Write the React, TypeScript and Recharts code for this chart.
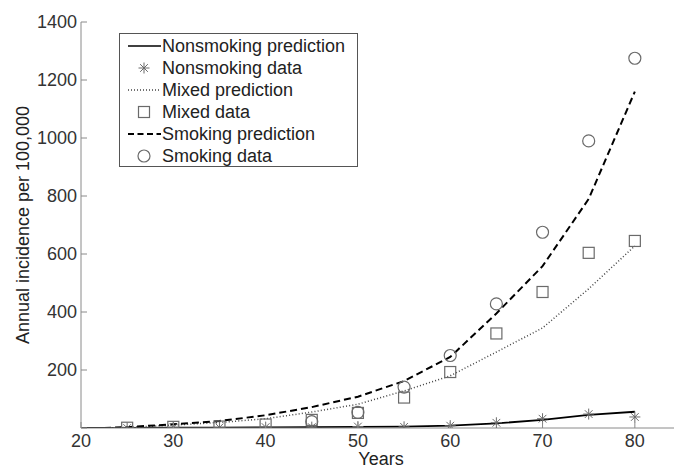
import React from 'react';
import { ComposedChart, Line, Scatter, XAxis, YAxis, Legend, Label } from 'recharts';

const nonsmokingPredYears = [20, 25, 30, 35, 40, 45, 50, 55, 60, 65, 70, 75, 80];
const nonsmokingPred = [0, 0.5, 1, 1.5, 2, 3, 4, 5, 8, 16, 28, 45, 56];

const curveYears = [22.5, 25, 30, 35, 40, 45, 50, 55, 60, 65, 70, 75, 80];
const mixedPred = [0, 2, 10, 19, 32, 55, 82, 128, 180, 262, 345, 480, 628];
const smokingPred = [0, 3, 13, 24, 44, 72, 108, 162, 245, 395, 558, 790, 1160];

// observed data
const dataYears = [25, 30, 35, 40, 45, 50, 55, 60, 65, 70, 75, 80];
const nonsmokingData = [0, 2, 2, 3, 3, 5, 4, 8, 18, 32, 48, 38];
const mixedData = [1, 4, 5, 12, 28, 52, 105, 193, 326, 469, 604, 645];

const smokingYears = [45, 50, 55, 60, 65, 70, 75, 80];
const smokingData = [22, 54, 141, 250, 428, 675, 990, 1275];

const xTicks = [20, 30, 40, 50, 60, 70, 80];
const yTicks = [0, 200, 400, 600, 800, 1000, 1200, 1400];

const toPoints = (xs: number[], ys: number[]) => xs.map((x, i) => ({ x, y: ys[i] }));

const FONT = '"Liberation Sans", Arial, sans-serif';
const MARKER = '#6a6a6a';
const AXIS = '#8a8a8a';

const StarMark = ({ cx, cy }: any) => {
  const r = 5.5;
  const d = r * 0.7;
  return (
    <g stroke={MARKER} strokeWidth={1}>
      <line x1={cx - r} y1={cy} x2={cx + r} y2={cy} />
      <line x1={cx} y1={cy - r} x2={cx} y2={cy + r} />
      <line x1={cx - d} y1={cy - d} x2={cx + d} y2={cy + d} />
      <line x1={cx - d} y1={cy + d} x2={cx + d} y2={cy - d} />
    </g>
  );
};

const SquareMark = ({ cx, cy }: any) => (
  <rect x={cx - 5.5} y={cy - 5.5} width={11} height={11} fill="none" stroke={MARKER} strokeWidth={1.2} />
);

const CircleMark = ({ cx, cy }: any) => (
  <circle cx={cx} cy={cy} r={6} fill="none" stroke={MARKER} strokeWidth={1.2} />
);

const YTick = ({ x, y, payload }: any) => (
  <g>
    <line x1={x + 4} y1={y} x2={x + 10} y2={y} stroke={AXIS} />
    {payload.value !== 0 && (
      <text x={x} y={y} dy="0.36em" textAnchor="end" fontSize={18} fontFamily={FONT} fill="#333">
        {payload.value}
      </text>
    )}
  </g>
);

const XTick = ({ x, y, payload }: any) => (
  <g>
    <line x1={x} y1={y} x2={x} y2={y - 6} stroke={AXIS} />
    <text x={x} y={y + 19} textAnchor="middle" fontSize={18} fontFamily={FONT} fill="#333">
      {payload.value}
    </text>
  </g>
);

const TopTick = ({ x, y }: any) => <line x1={x} y1={y} x2={x} y2={y + 6} stroke={AXIS} />;

const legendItems = [
  { name: 'Nonsmoking prediction', kind: 'solid' },
  { name: 'Nonsmoking data', kind: 'star' },
  { name: 'Mixed prediction', kind: 'dotted' },
  { name: 'Mixed data', kind: 'square' },
  { name: 'Smoking prediction', kind: 'dashed' },
  { name: 'Smoking data', kind: 'circle' },
];

const renderLegend = () => (
  <div
    style={{
      border: '1px solid #555',
      background: '#fff',
      paddingTop: 1,
      width: 237,
      height: 131,
      boxSizing: 'content-box',
    }}
  >
    {legendItems.map((item) => (
      <div key={item.name} style={{ display: 'flex', alignItems: 'center', height: 22 }}>
        <svg width={42} height={22} style={{ flex: 'none' }}>
          {item.kind === 'solid' && <line x1={8} y1={11} x2={41} y2={11} stroke="#000" strokeWidth={1.6} />}
          {item.kind === 'dotted' && (
            <line x1={8} y1={11} x2={41} y2={11} stroke="#444" strokeWidth={1.4} strokeDasharray="1 2" />
          )}
          {item.kind === 'dashed' && (
            <line x1={8} y1={11} x2={41} y2={11} stroke="#000" strokeWidth={1.8} strokeDasharray="6 3.5" />
          )}
          {item.kind === 'star' && <StarMark cx={24} cy={11} />}
          {item.kind === 'square' && <SquareMark cx={24} cy={11} />}
          {item.kind === 'circle' && <CircleMark cx={24} cy={11} />}
        </svg>
        <span style={{ fontFamily: FONT, fontSize: 18, color: '#222', whiteSpace: 'nowrap', lineHeight: '22px' }}>
          {item.name}
        </span>
      </div>
    ))}
  </div>
);

export default function App() {
  return (
    <div style={{ position: 'absolute', left: 0, top: 0, width: 674, height: 468, overflow: 'hidden', background: '#fff' }}>
      <ComposedChart width={700} height={468} margin={{ top: 22, right: 19, bottom: 0, left: 21 }}>
        <XAxis
          xAxisId="bottom"
          dataKey="x"
          type="number"
          domain={[20, 85]}
          ticks={xTicks}
          allowDataOverflow
          height={40}
          stroke={AXIS}
          tickLine={false}
          tickSize={0}
          tickMargin={0}
          tick={<XTick />}
        >
          <Label value="Years" position="insideBottom" offset={3} fontSize={18} fontFamily={FONT} fill="#222" />
        </XAxis>
        <XAxis
          xAxisId="top"
          orientation="top"
          dataKey="x"
          type="number"
          domain={[20, 85]}
          ticks={xTicks}
          allowDataOverflow
          height={0}
          stroke={AXIS}
          tickLine={false}
          tickSize={0}
          tickMargin={0}
          tick={<TopTick />}
        />
        <YAxis
          dataKey="y"
          type="number"
          domain={[0, 1400]}
          ticks={yTicks}
          allowDataOverflow
          width={60}
          stroke={AXIS}
          tickLine={false}
          tickSize={0}
          tickMargin={4}
          tick={<YTick />}
        >
          <Label
            value="Annual incidence per 100,000"
            angle={-90}
            position="insideLeft"
            offset={2}
            fontSize={18}
            fontFamily={FONT}
            fill="#222"
            style={{ textAnchor: 'middle' }}
          />
        </YAxis>
        <Legend
          layout="vertical"
          align="center"
          verticalAlign="middle"
          content={renderLegend}
          wrapperStyle={{ left: 119, top: 33, width: 'auto', height: 'auto' }}
        />
        <Line
          xAxisId="bottom"
          data={toPoints(nonsmokingPredYears, nonsmokingPred)}
          dataKey="y"
          type="linear"
          stroke="#000"
          strokeWidth={1.8}
          dot={false}
          isAnimationActive={false}
        />
        <Line
          xAxisId="bottom"
          data={toPoints(curveYears, mixedPred)}
          dataKey="y"
          type="linear"
          stroke="#444"
          strokeWidth={1.5}
          strokeDasharray="1 2.2"
          dot={false}
          isAnimationActive={false}
        />
        <Line
          xAxisId="bottom"
          data={toPoints(curveYears, smokingPred)}
          dataKey="y"
          type="linear"
          stroke="#000"
          strokeWidth={2}
          strokeDasharray="7 4"
          dot={false}
          isAnimationActive={false}
        />
        <Scatter
          xAxisId="bottom"
          data={toPoints(dataYears, nonsmokingData)}
          shape={<StarMark />}
          isAnimationActive={false}
        />
        <Scatter
          xAxisId="bottom"
          data={toPoints(dataYears, mixedData)}
          shape={<SquareMark />}
          isAnimationActive={false}
        />
        <Scatter
          xAxisId="bottom"
          data={toPoints(smokingYears, smokingData)}
          shape={<CircleMark />}
          isAnimationActive={false}
        />
      </ComposedChart>
    </div>
  );
}
